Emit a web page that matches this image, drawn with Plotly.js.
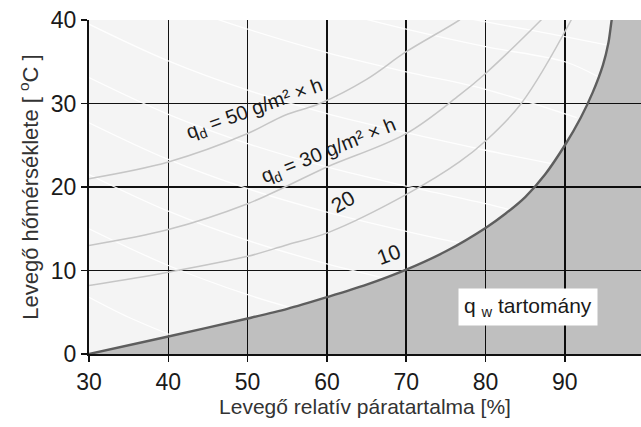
<!DOCTYPE html>
<html>
<head>
<meta charset="utf-8">
<script src="https://cdn.plot.ly/plotly-3.0.1.min.js"></script>
<style>html,body{margin:0;padding:0;background:#fff;}#chart{width:641px;height:427px;}</style>
</head>
<body>
<div id="chart"></div>
<script>
// Axis ticks
const xTicks = [30, 40, 50, 60, 70, 80, 90];
const yTicks = [0, 10, 20, 30, 40];

// Boundary curve (qd = 10) separating the qw region
const boundaryX = [30, 40, 50, 55, 60, 65, 70, 75, 80, 82.5, 85, 87.5, 90, 92, 93.5, 94.8, 95.5, 95.9, 96.6, 97.6, 98.8, 100.2];
const boundaryY = [0, 2.1, 4.25, 5.4, 6.8, 8.3, 10.1, 12.3, 15.1, 16.8, 18.8, 21.5, 25, 28.3, 31.3, 34.6, 37.3, 40, 44, 51, 60, 71];

// qd iso-curves (g/m² × h)
const q50X = [30, 40, 50, 54.7, 59.1, 65, 70, 76.7, 80];
const q50Y = [21.0, 23.0, 26.4, 28.6, 30.0, 32.9, 36.2, 40.0, 42.3];
const q30X = [30, 40, 50, 54.7, 60, 70, 76.7, 80, 87, 89];
const q30Y = [13.0, 14.9, 18.0, 20.0, 22.4, 26.4, 31.0, 33.6, 40, 42];
const q20X = [30, 40, 50, 54.7, 60.3, 70.2, 76.7, 80.1, 84.5, 90.8, 91.8];
const q20Y = [8.2, 9.8, 11.7, 13.0, 14.6, 19.2, 23.0, 25.6, 30, 40, 42];

// faint white background lines
const w1X = [30, 35, 40.5];             const w1Y = [6.8, 4.4, 2.2];
const w2X = [30, 40, 50, 55.6];         const w2Y = [15.0, 10.6, 7.1, 5.5];
const w3X = [30, 40, 50, 60, 67.2];     const w3Y = [21.5, 17.1, 13.6, 10.8, 9.1];
const w4X = [30, 40, 50, 60, 70, 76.7]; const w4Y = [27.7, 23.3, 19.8, 17.0, 14.7, 13.3];
const w5X = [30, 40, 50, 60, 70, 80, 83.0]; const w5Y = [33.1, 28.7, 25.2, 22.4, 20.1, 18.0, 17.3];
const w6X = [30, 40, 50, 60, 70, 80, 88.3]; const w6Y = [39.5, 35.1, 31.6, 28.8, 26.5, 24.4, 22.8];
const w7X = [44, 50, 60, 70, 80, 91.5];  const w7Y = [40.8, 38.9, 36.1, 33.8, 31.7, 28.3];
const w8X = [62, 70, 80, 90, 94.2];      const w8Y = [40.8, 38.9, 36.8, 35.0, 33.2];
const w9X = [76, 85, 90, 95.4];          const w9Y = [40.5, 38.9, 38.0, 37.0];

const FONT = '"Liberation Sans", Arial, sans-serif';

const whiteLines = [[w1X,w1Y],[w2X,w2Y],[w3X,w3Y],[w4X,w4Y],[w5X,w5Y],[w6X,w6Y],[w7X,w7Y],[w8X,w8Y],[w9X,w9Y]];
const traces = [];
whiteLines.forEach(function(p){
  traces.push({x: p[0], y: p[1], type: 'scatter', mode: 'lines', hoverinfo: 'skip',
    line: {color: 'rgba(255,255,255,0.9)', width: 1.3, shape: 'spline'}, showlegend: false});
});
[[q50X,q50Y],[q30X,q30Y],[q20X,q20Y]].forEach(function(p){
  traces.push({x: p[0], y: p[1], type: 'scatter', mode: 'lines', hoverinfo: 'skip',
    line: {color: '#c6c6c6', width: 1.5, shape: 'spline'}, showlegend: false});
});
traces.push({x: boundaryX, y: boundaryY, type: 'scatter', mode: 'lines', fill: 'tozeroy',
  fillcolor: 'rgba(0,0,0,0.215)', line: {color: '#5e5e5e', width: 2.4, shape: 'spline', smoothing: 0.8},
  hoverinfo: 'skip', showlegend: false});

const annFont = {family: FONT, size: 20, color: '#1a1a1a'};
const layout = {
  width: 641, height: 427,
  margin: {l: 89, r: 0, t: 20, b: 73, pad: 0},
  paper_bgcolor: '#ffffff',
  plot_bgcolor: '#f4f4f4',
  showlegend: false,
  xaxis: {
    range: [30, 99.6], tickvals: xTicks, ticktext: xTicks.map(String),
    showgrid: true, gridcolor: '#111111', gridwidth: 1.5, zeroline: false,
    showline: true, linecolor: '#111111', linewidth: 2,
    ticks: 'outside', ticklen: 6, tickwidth: 1.5, tickcolor: '#111111',
    tickfont: {family: FONT, size: 23, color: '#1a1a1a'},
    title: {text: 'Levegő relatív páratartalma [%]', font: {family: FONT, size: 21, color: '#333333'}, standoff: 6}
  },
  yaxis: {
    range: [0, 40], tickvals: yTicks, ticktext: yTicks.map(String),
    showgrid: true, gridcolor: '#111111', gridwidth: 1.5, zeroline: false,
    showline: true, linecolor: '#111111', linewidth: 2,
    ticks: 'outside', ticklen: 6, tickwidth: 1.5, tickcolor: '#111111',
    tickfont: {family: FONT, size: 23, color: '#1a1a1a'},
    title: {text: 'Levegő hőmérséklete [ <sup>o</sup>C ]', font: {family: FONT, size: 22, color: '#333333'}, standoff: 6}
  },
  annotations: [
    {x: 50.9, y: 29.3, xref: 'x', yref: 'y', text: 'q<sub>d</sub> = 50 g/m² × h', showarrow: false, textangle: -20, font: annFont},
    {x: 60.2, y: 24.3, xref: 'x', yref: 'y', text: 'q<sub>d</sub> = 30 g/m² × h', showarrow: false, textangle: -22, font: annFont},
    {x: 62.0, y: 18.3, xref: 'x', yref: 'y', text: '20', showarrow: false, textangle: -30, font: {family: FONT, size: 21, color: '#1a1a1a'}},
    {x: 67.7, y: 11.9, xref: 'x', yref: 'y', text: '10', showarrow: false, textangle: -20, font: {family: FONT, size: 21, color: '#1a1a1a'}},
    {x: 85.3, y: 5.6, xref: 'x', yref: 'y', text: 'q <sub>w</sub> tartomány', showarrow: false,
     bgcolor: '#ffffff', borderpad: 5, font: {family: FONT, size: 21, color: '#1a1a1a'}}
  ]
};
Plotly.newPlot('chart', traces, layout, {staticPlot: true, displayModeBar: false});
</script>
</body>
</html>
